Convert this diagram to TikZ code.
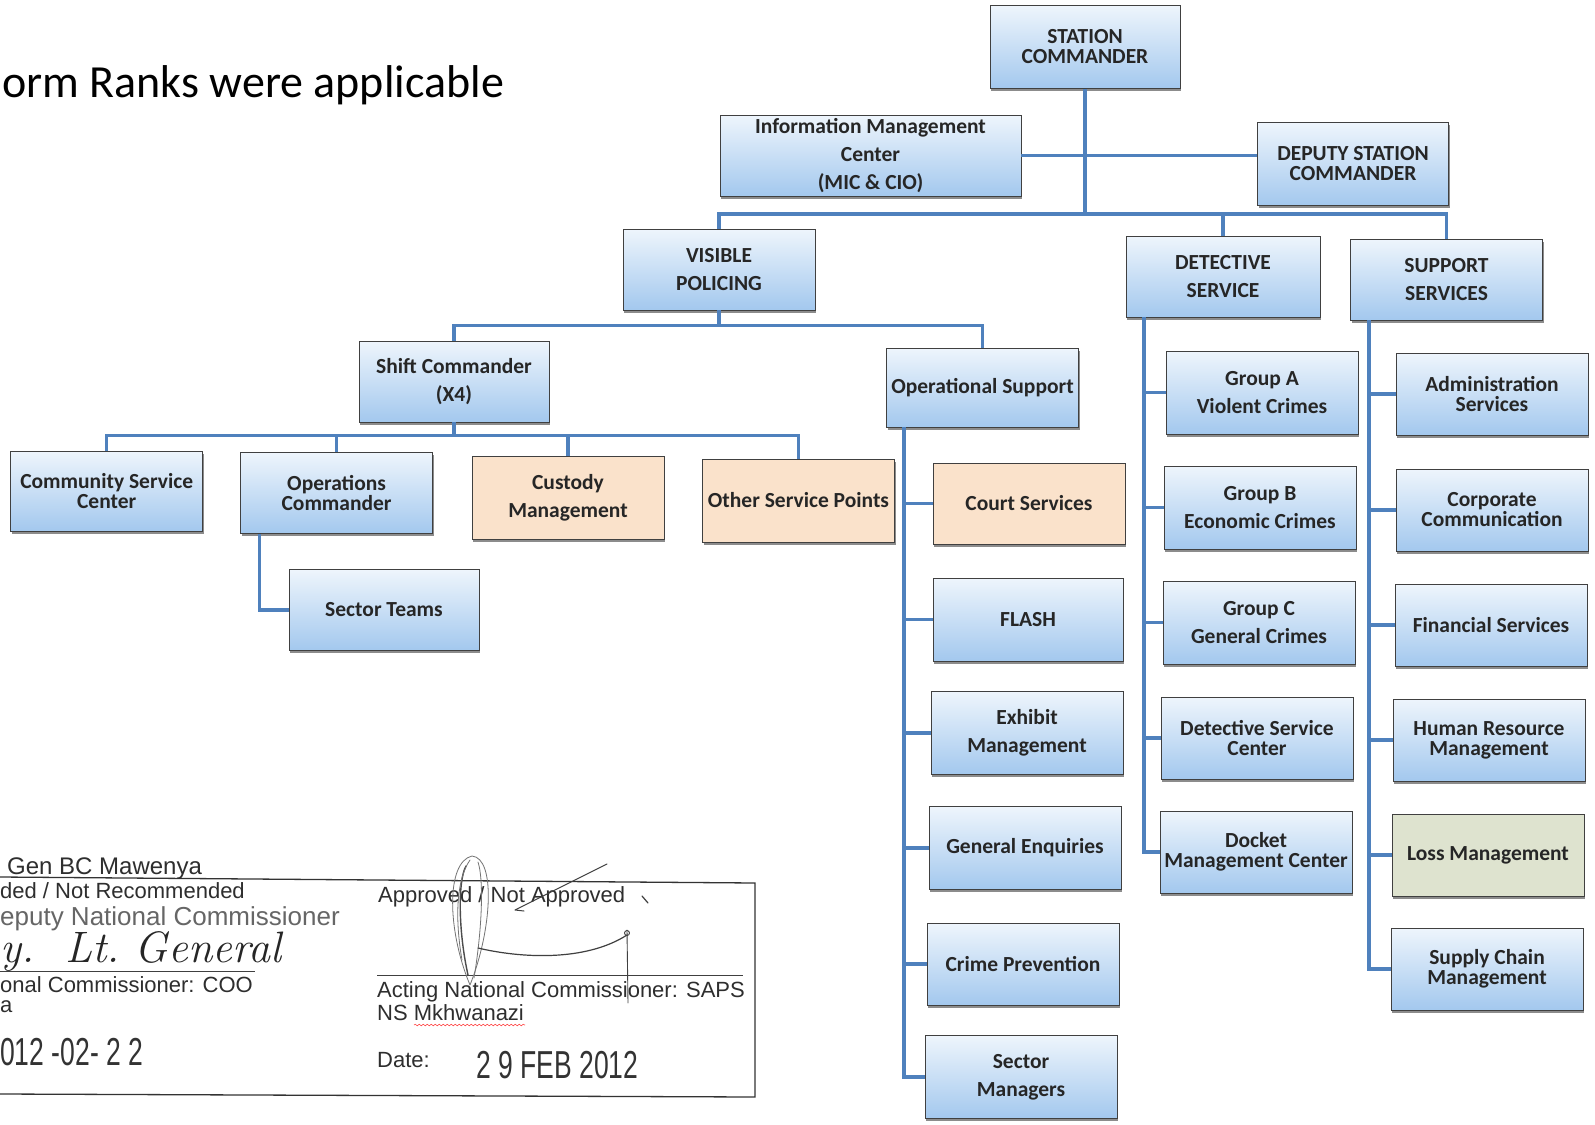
\documentclass[tikz,border=0pt]{standalone}
\usepackage{fontspec}
\usetikzlibrary{shadows,decorations.pathmorphing}
\newfontfamily\boxfont{Carlito}
\newfontfamily\formfont{Liberation Sans}
\newfontfamily\stampfont[FakeStretch=0.68]{Liberation Sans}
\definecolor{boxtop}{HTML}{EEF5FC}
\definecolor{boxbot}{HTML}{A3C8EE}
\definecolor{peachbox}{HTML}{FAE2CB}
\definecolor{sagebox}{HTML}{DEE3CF}
\definecolor{linkblue}{HTML}{4F81BD}
\definecolor{inkgrey}{HTML}{2E2E2E}
\tikzset{
  unit/.style={draw=black!75, line width=0.9pt, top color=boxtop, bottom color=boxbot,
    text=black!85, align=center, inner sep=0pt, minimum width=192pt, minimum height=82pt,
    font=\boxfont\bfseries\fontsize{21.5}{28}\selectfont,
    drop shadow={shadow xshift=1pt, shadow yshift=-2.5pt, fill=black, opacity=0.45}},
  tight/.style={font=\boxfont\bfseries\fontsize{21.5}{20}\selectfont},
  peach/.style={top color=peachbox, bottom color=peachbox},
  sage/.style={top color=sagebox, bottom color=sagebox},
  link/.style={draw=linkblue, line width=3.5pt},
  formtext/.style={inner sep=0pt, anchor=base west, text=inkgrey,
    font=\formfont\fontsize{22}{26}\selectfont},
  stamp/.style={inner sep=0pt, anchor=base west, text=black!80,
    font=\stampfont\fontsize{39}{40}\selectfont},
  ink/.style={draw=black!75, line width=1.2pt, line cap=round, line join=round},
  pencil/.style={draw=black!55, line width=0.8pt, line cap=round},
}
\begin{document}
\begin{tikzpicture}[x=1pt, y=-1pt]
\fill[white] (0,0) rectangle (1595,1124);
\useasboundingbox (0,0) rectangle (1595,1124);

% heading
\node[anchor=base west, inner sep=0pt, font=\boxfont\fontsize{46}{52}\selectfont] (title) at (2,97) {orm Ranks were applicable};

% top management
\node[unit, tight, minimum width=190pt, minimum height=83pt] (sc) at (1085,47) {STATION\\COMMANDER};
\node[unit, minimum width=301pt, minimum height=81pt] (imc) at (870.5,155.5) {Information Management\\Center\\(MIC \& CIO)};
\node[unit, tight, minimum width=191pt, minimum height=83pt] (dep) at (1353,164) {DEPUTY STATION\\COMMANDER};

% divisions
\node[unit, minimum height=81pt] (vp) at (719,269.5) {VISIBLE\\POLICING};
\node[unit, minimum width=194pt, minimum height=81pt] (ds) at (1223,276.5) {DETECTIVE\\SERVICE};
\node[unit, minimum height=81pt] (ss) at (1446.5,279.5) {SUPPORT\\SERVICES};

% visible policing
\node[unit, minimum width=190pt, minimum height=81pt] (shift) at (454,381.5) {Shift Commander\\(X4)};
\node[unit, minimum height=79pt] (ops) at (982.5,387.5) {Operational Support};
\node[unit, tight, minimum height=80pt] (csc) at (106.7,491) {Community Service\\Center};
\node[unit, tight, minimum height=81pt] (opc) at (336.6,493) {Operations\\Commander};
\node[unit, peach, minimum height=83pt] (cust) at (568,497.5) {Custody\\Management};
\node[unit, peach, minimum height=83pt] (other) at (798.5,500.5) {Other Service Points};
\node[unit, minimum width=190pt, minimum height=81pt] (st) at (384,610) {Sector Teams};

% operational support
\node[unit, peach, minimum height=81pt] (court) at (1029,503.5) {Court Services};
\node[unit, minimum width=190pt, minimum height=83pt] (flash) at (1028,619.5) {FLASH};
\node[unit, minimum height=83pt] (exh) at (1027,733) {Exhibit\\Management};
\node[unit, minimum height=83pt] (ge) at (1025,848) {General Enquiries};
\node[unit, minimum height=82pt] (cp) at (1023,964) {Crime Prevention};
\node[unit, minimum height=83pt] (sm) at (1021,1077) {Sector\\Managers};

% detective service
\node[unit, minimum height=83pt] (ga) at (1262,392.5) {Group A\\Violent Crimes};
\node[unit, minimum height=83pt] (gb) at (1260,507.5) {Group B\\Economic Crimes};
\node[unit, minimum height=83pt] (gc) at (1259,622.5) {Group C\\General Crimes};
\node[unit, tight] (dsc) at (1257,738) {Detective Service\\Center};
\node[unit, tight] (dmc) at (1256,852) {Docket\\Management Center};

% support services
\node[unit, tight] (adm) at (1492,394) {Administration\\Services};
\node[unit, tight] (cc) at (1492,510) {Corporate\\Communication};
\node[unit] (fin) at (1491,625) {Financial Services};
\node[unit, tight] (hr) at (1489,740) {Human Resource\\Management};
\node[unit, sage] (loss) at (1488,855) {Loss Management};
\node[unit, tight] (scm) at (1487,969) {Supply Chain\\Management};

% connectors
\coordinate (busA) at (1085,214);
\draw[link] (sc.south) -- (busA);
\draw[link] (vp.north) |- (busA) -| (ss.north);
\draw[link] (ds.north) -- (ds.north |- busA);
\draw[link] (imc.east) -- (imc.east -| dep.west);

\coordinate (busB) at (719,325.5);
\draw[link] (vp.south) -- (busB);
\draw[link] (shift.north) |- (busB) -| (ops.north);

\coordinate (busC) at (454,435.5);
\draw[link] (shift.south) -- (busC);
\draw[link] (csc.north) |- (busC) -| (other.north);
\draw[link] (opc.north) -- (opc.north |- busC);
\draw[link] (cust.north) -- (cust.north |- busC);
\draw[link] ([xshift=-77pt]opc.south) |- (st.west);

\coordinate (osv) at ([xshift=-78.5pt]ops.south);
\draw[link] (osv) |- (sm.west);
\foreach \n in {court,flash,exh,ge,cp} \draw[link] (\n.west) -- (\n.west -| osv);

\coordinate (dsv) at ([xshift=-79pt]ds.south);
\draw[link] (dsv) |- (dmc.west);
\foreach \n in {ga,gb,gc,dsc} \draw[link] (\n.west) -- (\n.west -| dsv);

\coordinate (ssv) at ([xshift=-77.5pt]ss.south);
\draw[link] (ssv) |- (scm.west);
\foreach \n in {adm,cc,fin,hr,loss} \draw[link] (\n.west) -- (\n.west -| ssv);

% approval form
\draw[black!80, line width=1.3pt] (0,877) -- (755,883) -- (755,1097) -- (0,1094);

\node[formtext, font=\formfont\fontsize{24}{28}\selectfont] (rname) at (7,874) {Gen BC Mawenya};
\node[formtext] (rec) at (0,898) {ded / Not Recommended};
\node[formtext, text=black!60, font=\formfont\fontsize{26}{30}\selectfont] (rtitle) at (0,925) {eputy National Commissioner};
\node[anchor=base west, inner sep=0pt, text=black!85, font=\itshape\fontsize{44}{46}\selectfont] (rhand) at (0,962) {y.\ \ Lt.\ General};
\draw[black!75, line width=1pt] (0,971) -- (255,971);
\node[formtext] (coo) at (0,992) {onal Commissioner: COO};
\node[formtext] (frag) at (0,1012) {a};
\node[stamp] (d1) at (0,1065) {012 -02- 2 2};

\node[formtext] (appr) at (378,902) {Approved / Not Approved};
\draw[black!75, line width=1pt] (377,975) -- (743,975);
\node[formtext] (acting) at (377,997) {Acting National Commissioner: SAPS};
\node[formtext] (nsm) at (377,1020) {NS Mkhwanazi};
\draw[red!70, line width=0.6pt, decorate, decoration={snake, amplitude=0.8pt, segment length=4pt}] (414,1025) -- (525,1025);
\node[formtext] (datel) at (377,1067) {Date:};
\node[stamp] (d2) at (476,1078) {2 9 FEB 2012};

% signature strokes
\draw[pencil] (470,985) .. controls (447,930) and (446,862) .. (472,856) .. controls (496,858) and (492,930) .. (470,985);
\draw[pencil, black!70, line width=1.4pt] (468,975) .. controls (458,930) and (458,880) .. (466,866);
\draw[pencil] (474,978) .. controls (482,930) and (484,880) .. (478,862);
\draw[pencil] (462,960) .. controls (455,920) and (456,880) .. (470,860);
\draw[ink] (478,948) .. controls (520,958) and (585,962) .. (627,935);
\draw[ink, line width=0.9pt] (627,930) -- (628,1003);
\draw[ink, line width=0.9pt] (627,933) circle (2.5);
\draw[ink, line width=1pt] (607,864) -- (515,910) -- (524,911);
\draw[ink] (642,896) -- (648,903);
\end{tikzpicture}
\end{document}
